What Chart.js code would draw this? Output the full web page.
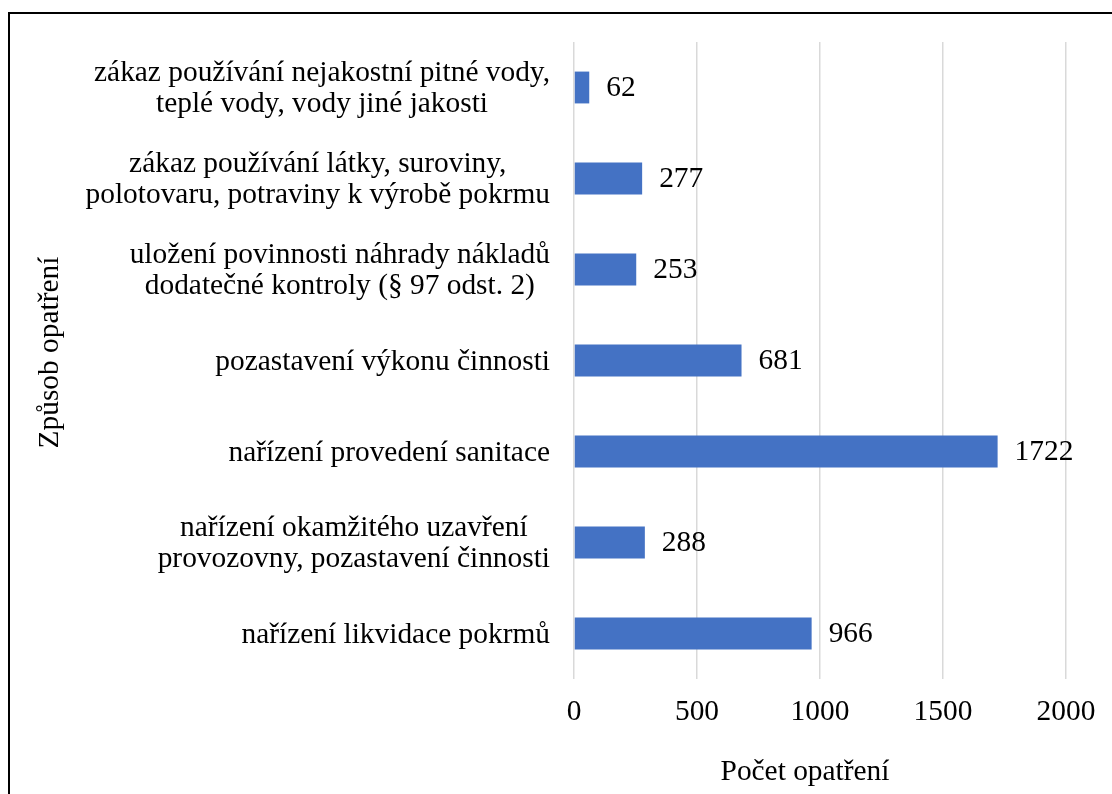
<!DOCTYPE html>
<html lang="cs">
<head>
<meta charset="utf-8">
<title>Způsob opatření</title>
<script src="https://cdn.jsdelivr.net/npm/chart.js@4.4.1/dist/chart.umd.min.js"></script>
<style>
    html, body {
        margin: 0;
        padding: 0;
        background: #ffffff;
        overflow: hidden;
    }
    #wrap {
        position: relative;
        width: 1112px;
        height: 794px;
    }
    #frame {
        position: absolute;
        left: 8px;
        top: 12px;
        right: -4px;
        bottom: -4px;
        border-left: 2px solid #000;
        border-top: 2px solid #000;
        pointer-events: none;
    }
</style>
</head>
<body>
<div id="wrap">
    <canvas id="opatreniChart" width="1112" height="794"></canvas>
    <div id="frame"></div>
</div>
<script>
var categories = [
    ['zákaz používání nejakostní pitné vody,', 'teplé vody, vody jiné jakosti'],
    ['zákaz používání látky, suroviny,', 'polotovaru, potraviny k výrobě pokrmu'],
    ['uložení povinnosti náhrady nákladů', 'dodatečné kontroly (§ 97 odst. 2)'],
    'pozastavení výkonu činnosti',
    'nařízení provedení sanitace',
    ['nařízení okamžitého uzavření', 'provozovny, pozastavení činnosti'],
    'nařízení likvidace pokrmů'
];
var counts = [62, 277, 253, 681, 1722, 288, 966];
var xTicks = [0, 500, 1000, 1500, 2000];
var xTitle = 'Počet opatření';
var yTitle = 'Způsob opatření';

var FONT = '"Liberation Serif", "Times New Roman", serif';
var TEXT_FONT = '29.4px ' + FONT;

// category labels: block right-aligned to the axis, lines centred inside the block
var categoryLabels = {
    id: 'categoryLabels',
    afterDraw: function (chart) {
        var ctx = chart.ctx;
        var yScale = chart.scales.y;
        var right = chart.chartArea.left - 24;
        var lineGap = 31;
        ctx.save();
        ctx.font = TEXT_FONT;
        ctx.fillStyle = '#000000';
        ctx.textAlign = 'center';
        ctx.textBaseline = 'alphabetic';
        categories.forEach(function (label, i) {
            var lines = Array.isArray(label) ? label : [label];
            var widest = 0;
            lines.forEach(function (line) {
                widest = Math.max(widest, ctx.measureText(line).width);
            });
            var cx = right - widest / 2;
            var cy = yScale.getPixelForValue(i);
            lines.forEach(function (line, j) {
                var offset = (j - (lines.length - 1) / 2) * lineGap;
                ctx.fillText(line, cx, cy + offset + 9);
            });
        });
        ctx.restore();
    }
};

// value labels to the right of each bar, plus the two axis titles
var valueLabels = {
    id: 'valueLabels',
    afterDatasetsDraw: function (chart) {
        var ctx = chart.ctx;
        var meta = chart.getDatasetMeta(0);
        var area = chart.chartArea;
        ctx.save();
        ctx.font = TEXT_FONT;
        ctx.fillStyle = '#000000';
        ctx.textAlign = 'left';
        ctx.textBaseline = 'middle';
        meta.data.forEach(function (bar, i) {
            ctx.fillText(String(counts[i]), bar.x + 17, bar.y + 1);
        });

        ctx.textAlign = 'center';
        ctx.fillText(xTitle, (area.left + area.right) / 2 - 15, 772);

        ctx.translate(50, (area.top + area.bottom) / 2 - 8);
        ctx.rotate(-Math.PI / 2);
        ctx.fillText(yTitle, 0, 0);
        ctx.restore();
    }
};

new Chart(document.getElementById('opatreniChart').getContext('2d'), {
    type: 'bar',
    data: {
        labels: categories,
        datasets: [{
            data: counts,
            backgroundColor: '#4472C4',
            borderWidth: 0,
            barPercentage: 0.35,
            categoryPercentage: 1
        }]
    },
    options: {
        indexAxis: 'y',
        responsive: false,
        animation: false,
        layout: {
            padding: { left: 10, top: 42, right: 46, bottom: 0 }
        },
        plugins: {
            legend: { display: false },
            tooltip: { enabled: false }
        },
        scales: {
            x: {
                min: 0,
                max: 2000,
                afterBuildTicks: function (scale) {
                    scale.ticks = xTicks.map(function (v) { return { value: v }; });
                },
                afterFit: function (scale) {
                    scale.height = 115;
                    scale.paddingLeft = 0;
                    scale.paddingRight = 0;
                },
                grid: {
                    color: '#d9d9d9',
                    lineWidth: 1.5,
                    drawTicks: false
                },
                border: { display: false },
                ticks: {
                    padding: 16,
                    color: '#000000',
                    font: { family: FONT, size: 29.4, lineHeight: 1.2 },
                    callback: function (value) {
                        return String(value);
                    }
                },
                title: { display: false }
            },
            y: {
                afterFit: function (scale) {
                    scale.width = 564;
                    scale.paddingTop = 0;
                    scale.paddingBottom = 0;
                },
                grid: { display: false, drawTicks: false },
                border: { display: false },
                ticks: { display: false },
                title: { display: false }
            }
        }
    },
    plugins: [valueLabels, categoryLabels]
});
</script>
</body>
</html>
